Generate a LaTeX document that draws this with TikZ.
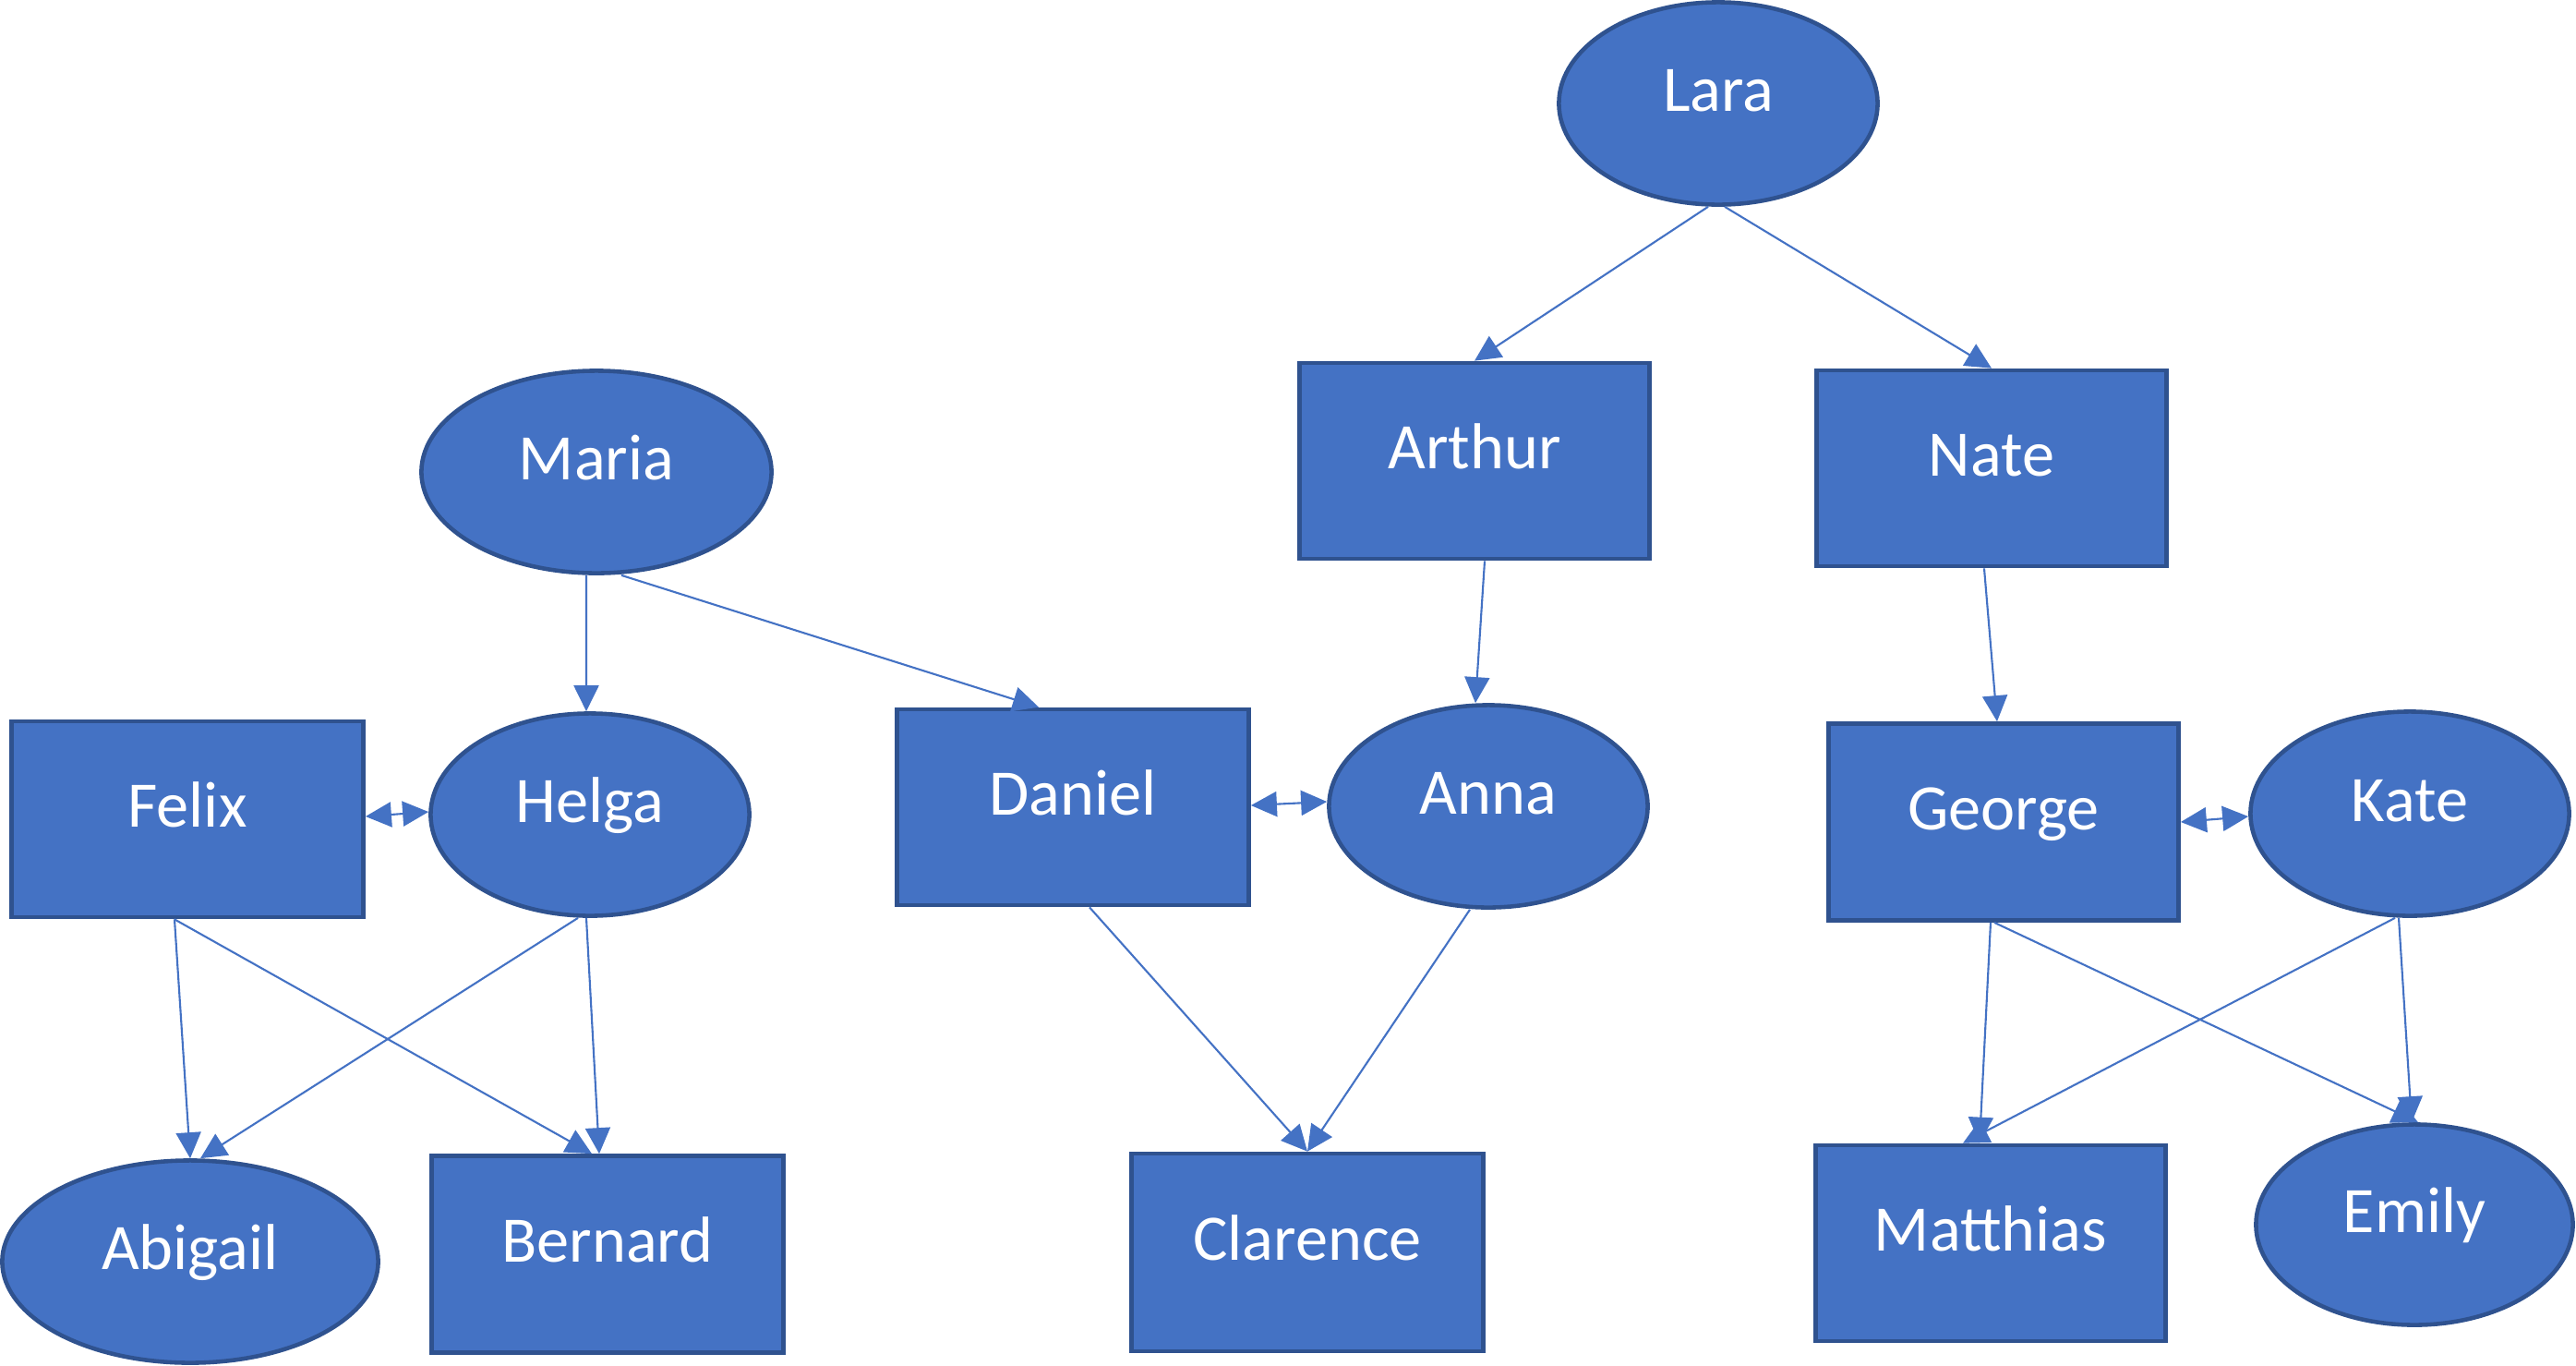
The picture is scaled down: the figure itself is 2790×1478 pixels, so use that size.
\documentclass[tikz,border=0pt]{standalone}
\usepackage{fontspec}
\setmainfont{Carlito}
\usetikzlibrary{shapes.geometric,arrows.meta}
\definecolor{fillblue}{HTML}{4472C4}
\definecolor{edgeblue}{HTML}{2F528F}
\tikzset{
  person/.style={fill=fillblue,draw=edgeblue,line width=1.3pt,text=white,
    font=\fontsize{20}{24}\selectfont,text height=0.45cm,text depth=0.28cm,inner sep=0pt},
  boxnode/.style={person,rectangle,minimum width=3.79cm,minimum height=2.12cm},
  ovalnode/.style={person,ellipse,minimum width=3.45cm,minimum height=2.19cm},
  link/.style={draw=fillblue,line width=0.6pt,-{Triangle[length=0.28cm,width=0.27cm]}},
  duallink/.style={draw=fillblue,line width=0.6pt,{Triangle[length=0.28cm,width=0.27cm]}-{Triangle[length=0.28cm,width=0.27cm]}}
}
\begin{document}
\begin{tikzpicture}[x=0.01cm,y=-0.01cm]
\useasboundingbox (0,0) rectangle (2790,1478);
\node[ovalnode] (lara) at (1861,112) {Lara};
\node[ovalnode,minimum width=3.79cm] (maria) at (646,511) {Maria};
\node[boxnode] (arthur) at (1597,499) {Arthur};
\node[boxnode] (nate) at (2157,507) {Nate};
\node[boxnode,minimum width=3.81cm] (felix) at (203,887) {Felix};
\node[ovalnode] (helga) at (639,882) {Helga};
\node[boxnode,minimum width=3.81cm] (daniel) at (1162,874) {Daniel};
\node[ovalnode] (anna) at (1612,873) {Anna};
\node[boxnode,minimum height=2.13cm] (george) at (2170,890) {George};
\node[ovalnode,minimum height=2.21cm] (kate) at (2610,881) {Kate};
\node[ovalnode,minimum width=4.07cm] (abigail) at (206,1366) {Abigail};
\node[boxnode,minimum width=3.81cm,minimum height=2.13cm] (bernard) at (658,1358) {Bernard};
\node[boxnode,minimum width=3.81cm,minimum height=2.14cm] (clarence) at (1416,1356) {Clarence};
\node[boxnode] (matthias) at (2156,1346) {Matthias};
\node[ovalnode,minimum width=3.43cm,minimum height=2.17cm] (emily) at (2615,1326) {Emily};

\draw[link] ([xshift=-0.11cm]lara.south) -- (arthur.north);
\draw[link] ([xshift=0.07cm]lara.south) -- (nate.north);
\draw[link] ([xshift=-0.11cm]maria.south) -- ([xshift=-0.04cm]helga.north);
\draw[link] ([xshift=0.27cm]maria.south) -- ([xshift=-0.37cm]daniel.north);
\draw[link] ([xshift=0.11cm]arthur.south) -- ([xshift=-0.14cm]anna.north);
\draw[link] ([xshift=-0.08cm]nate.south) -- ([xshift=-0.07cm]george.north);

\draw[duallink] ([yshift=0.03cm]felix.east) -- ([yshift=0.03cm]helga.west);
\draw[duallink] ([yshift=0.02cm]daniel.east) -- ([yshift=0.05cm]anna.west);
\draw[duallink] (george.east) -- ([yshift=-0.03cm]kate.west);

\draw[link] ([xshift=-0.14cm]felix.south) -- (abigail.north);
\draw[link] ([xshift=-0.14cm]felix.south) -- ([xshift=-0.17cm]bernard.north);
\draw[link] ([xshift=-0.13cm]helga.south) -- ([xshift=0.11cm]abigail.north);
\draw[link] ([xshift=-0.04cm]helga.south) -- ([xshift=-0.09cm]bernard.north);
\draw[link] ([xshift=0.18cm]daniel.south) -- (clarence.north);
\draw[link] ([xshift=-0.2cm]anna.south) -- (clarence.north);
\draw[link] ([xshift=-0.14cm]george.south) -- ([xshift=-0.12cm]matthias.north);
\draw[link] ([xshift=-0.1cm]george.south) -- ([xshift=0.04cm]emily.north);
\draw[link] ([xshift=-0.16cm]kate.south) -- ([xshift=-0.3cm]matthias.north);
\draw[link] ([xshift=-0.12cm]kate.south) -- ([xshift=-0.03cm]emily.north);
\end{tikzpicture}
\end{document}
